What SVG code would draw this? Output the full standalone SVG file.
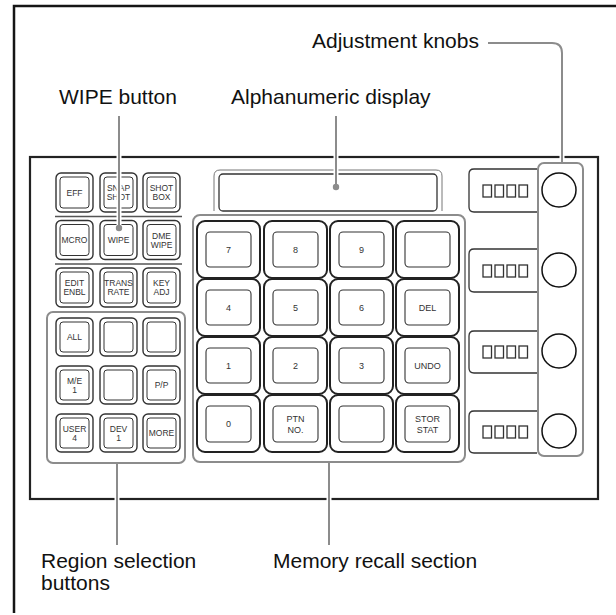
<svg xmlns="http://www.w3.org/2000/svg" width="616" height="615" viewBox="0 0 616 615">
<style>
.frame{fill:none;stroke:#151515;stroke-width:2.5}
.panel{fill:#fff;stroke:#222;stroke-width:2.2}
.bo{fill:#fff;stroke:#333;stroke-width:1.4}
.bi{fill:none;stroke:#333;stroke-width:1}
.bt{font-family:"Liberation Sans",Arial,sans-serif;font-size:8.5px;fill:#333;text-anchor:middle}
.ko{fill:#fff;stroke:#222;stroke-width:2}
.ki{fill:none;stroke:#333;stroke-width:1.1}
.kt{font-family:"Liberation Sans",Arial,sans-serif;font-size:9px;fill:#333;text-anchor:middle}
.grp{fill:none;stroke:#8c8c8c;stroke-width:2}
.sep{stroke:#555;stroke-width:1.3}
.disp{fill:none;stroke:#333;stroke-width:1.3}
.seg{fill:none;stroke:#333;stroke-width:1.3}
.knob{fill:#fff;stroke:#111;stroke-width:1.5}
.lbl{font-family:"Liberation Sans",Arial,sans-serif;font-size:21px;fill:#111}
.halo{fill:none;stroke:#fff;stroke-width:5}
.ln{fill:none;stroke:#8c8c8c;stroke-width:2}
.dot{fill:#8c8c8c}
</style>

<path class="frame" d="M14,613 V6 H616"/>
<g id="panel"><rect class="panel" x="30" y="157" width="568" height="342"/></g>

<g id="separators">
<line class="sep" x1="55" y1="216.5" x2="182" y2="216.5"/>
<line class="sep" x1="55" y1="264" x2="182" y2="264"/>
</g>

<g id="btn-eff"><rect class="bo" x="56" y="173" width="37" height="39" rx="5"/><rect class="bi" x="60" y="177" width="29" height="31" rx="3"/><text class="bt" x="74.5" y="195.5">EFF</text></g>
<g id="btn-snapshot"><rect class="bo" x="100" y="173" width="37" height="39" rx="5"/><rect class="bi" x="104" y="177" width="29" height="31" rx="3"/><text class="bt" x="118.5" y="191">SNAP</text><text class="bt" x="118.5" y="200">SHOT</text></g>
<g id="btn-shotbox"><rect class="bo" x="143" y="173" width="37" height="39" rx="5"/><rect class="bi" x="147" y="177" width="29" height="31" rx="3"/><text class="bt" x="161.5" y="191">SHOT</text><text class="bt" x="161.5" y="200">BOX</text></g>

<g id="btn-mcro"><rect class="bo" x="56" y="220.5" width="37" height="39" rx="5"/><rect class="bi" x="60" y="224.5" width="29" height="31" rx="3"/><text class="bt" x="74.5" y="243">MCRO</text></g>
<g id="btn-wipe"><rect class="bo" x="100" y="220.5" width="37" height="39" rx="5"/><rect class="bi" x="104" y="224.5" width="29" height="31" rx="3"/><text class="bt" x="118.5" y="243">WIPE</text></g>
<g id="btn-dmewipe"><rect class="bo" x="143" y="220.5" width="37" height="39" rx="5"/><rect class="bi" x="147" y="224.5" width="29" height="31" rx="3"/><text class="bt" x="161.5" y="238.5">DME</text><text class="bt" x="161.5" y="247.5">WIPE</text></g>

<g id="btn-editenbl"><rect class="bo" x="56" y="268" width="37" height="39" rx="5"/><rect class="bi" x="60" y="272" width="29" height="31" rx="3"/><text class="bt" x="74.5" y="286">EDIT</text><text class="bt" x="74.5" y="295">ENBL</text></g>
<g id="btn-transrate"><rect class="bo" x="100" y="268" width="37" height="39" rx="5"/><rect class="bi" x="104" y="272" width="29" height="31" rx="3"/><text class="bt" x="118.5" y="286">TRANS</text><text class="bt" x="118.5" y="295">RATE</text></g>
<g id="btn-keyadj"><rect class="bo" x="143" y="268" width="37" height="39" rx="5"/><rect class="bi" x="147" y="272" width="29" height="31" rx="3"/><text class="bt" x="161.5" y="286">KEY</text><text class="bt" x="161.5" y="295">ADJ</text></g>

<g id="region-group"><rect class="grp" x="47" y="312" width="138" height="151" rx="6"/></g>
<g id="btn-all"><rect class="bo" x="56" y="318" width="37" height="38" rx="5"/><rect class="bi" x="60" y="322" width="29" height="30" rx="3"/><text class="bt" x="74.5" y="340">ALL</text></g>
<g id="btn-r1c2"><rect class="bo" x="100" y="318" width="37" height="38" rx="5"/><rect class="bi" x="104" y="322" width="29" height="30" rx="3"/></g>
<g id="btn-r1c3"><rect class="bo" x="143" y="318" width="37" height="38" rx="5"/><rect class="bi" x="147" y="322" width="29" height="30" rx="3"/></g>
<g id="btn-me1"><rect class="bo" x="56" y="366" width="37" height="38" rx="5"/><rect class="bi" x="60" y="370" width="29" height="30" rx="3"/><text class="bt" x="74.5" y="383.5">M/E</text><text class="bt" x="74.5" y="392.5">1</text></g>
<g id="btn-r2c2"><rect class="bo" x="100" y="366" width="37" height="38" rx="5"/><rect class="bi" x="104" y="370" width="29" height="30" rx="3"/></g>
<g id="btn-pp"><rect class="bo" x="143" y="366" width="37" height="38" rx="5"/><rect class="bi" x="147" y="370" width="29" height="30" rx="3"/><text class="bt" x="161.5" y="388">P/P</text></g>
<g id="btn-user4"><rect class="bo" x="56" y="414" width="37" height="38" rx="5"/><rect class="bi" x="60" y="418" width="29" height="30" rx="3"/><text class="bt" x="74.5" y="431.5">USER</text><text class="bt" x="74.5" y="440.5">4</text></g>
<g id="btn-dev1"><rect class="bo" x="100" y="414" width="37" height="38" rx="5"/><rect class="bi" x="104" y="418" width="29" height="30" rx="3"/><text class="bt" x="118.5" y="431.5">DEV</text><text class="bt" x="118.5" y="440.5">1</text></g>
<g id="btn-more"><rect class="bo" x="143" y="414" width="37" height="38" rx="5"/><rect class="bi" x="147" y="418" width="29" height="30" rx="3"/><text class="bt" x="161.5" y="436">MORE</text></g>

<g id="alpha-display">
<path fill="none" stroke="#777" stroke-width="1" d="M214,211 V176 Q214,170 220,170 H436 Q442,170 442,176 V211"/>
<rect class="disp" x="219" y="174" width="218" height="37" rx="4"/>
</g>

<g id="memory-group"><rect class="grp" x="193" y="215" width="272" height="247" rx="7"/></g>
<g id="key-7"><rect class="ko" x="197" y="221" width="63" height="57" rx="8"/><rect class="ki" x="206" y="232" width="45" height="35" rx="4"/><text class="kt" x="228.5" y="252.5">7</text></g>
<g id="key-8"><rect class="ko" x="264" y="221" width="63" height="57" rx="8"/><rect class="ki" x="273" y="232" width="45" height="35" rx="4"/><text class="kt" x="295.5" y="252.5">8</text></g>
<g id="key-9"><rect class="ko" x="330" y="221" width="63" height="57" rx="8"/><rect class="ki" x="339" y="232" width="45" height="35" rx="4"/><text class="kt" x="361.5" y="252.5">9</text></g>
<g id="key-r1c4"><rect class="ko" x="396" y="221" width="63" height="57" rx="8"/><rect class="ki" x="405" y="232" width="45" height="35" rx="4"/></g>
<g id="key-4"><rect class="ko" x="197" y="279" width="63" height="57" rx="8"/><rect class="ki" x="206" y="290" width="45" height="35" rx="4"/><text class="kt" x="228.5" y="310.5">4</text></g>
<g id="key-5"><rect class="ko" x="264" y="279" width="63" height="57" rx="8"/><rect class="ki" x="273" y="290" width="45" height="35" rx="4"/><text class="kt" x="295.5" y="310.5">5</text></g>
<g id="key-6"><rect class="ko" x="330" y="279" width="63" height="57" rx="8"/><rect class="ki" x="339" y="290" width="45" height="35" rx="4"/><text class="kt" x="361.5" y="310.5">6</text></g>
<g id="key-del"><rect class="ko" x="396" y="279" width="63" height="57" rx="8"/><rect class="ki" x="405" y="290" width="45" height="35" rx="4"/><text class="kt" x="427.5" y="310.5">DEL</text></g>
<g id="key-1"><rect class="ko" x="197" y="337" width="63" height="57" rx="8"/><rect class="ki" x="206" y="348" width="45" height="35" rx="4"/><text class="kt" x="228.5" y="368.5">1</text></g>
<g id="key-2"><rect class="ko" x="264" y="337" width="63" height="57" rx="8"/><rect class="ki" x="273" y="348" width="45" height="35" rx="4"/><text class="kt" x="295.5" y="368.5">2</text></g>
<g id="key-3"><rect class="ko" x="330" y="337" width="63" height="57" rx="8"/><rect class="ki" x="339" y="348" width="45" height="35" rx="4"/><text class="kt" x="361.5" y="368.5">3</text></g>
<g id="key-undo"><rect class="ko" x="396" y="337" width="63" height="57" rx="8"/><rect class="ki" x="405" y="348" width="45" height="35" rx="4"/><text class="kt" x="427.5" y="368.5">UNDO</text></g>
<g id="key-0"><rect class="ko" x="197" y="395" width="63" height="57" rx="8"/><rect class="ki" x="206" y="406" width="45" height="36" rx="4"/><text class="kt" x="228.5" y="427">0</text></g>
<g id="key-ptnno"><rect class="ko" x="264" y="395" width="63" height="57" rx="8"/><rect class="ki" x="273" y="406" width="45" height="36" rx="4"/><text class="kt" x="295.5" y="422">PTN</text><text class="kt" x="295.5" y="432.5">NO.</text></g>
<g id="key-r4c3"><rect class="ko" x="330" y="395" width="63" height="57" rx="8"/><rect class="ki" x="339" y="406" width="45" height="36" rx="4"/></g>
<g id="key-storstat"><rect class="ko" x="396" y="395" width="63" height="57" rx="8"/><rect class="ki" x="405" y="406" width="45" height="36" rx="4"/><text class="kt" x="427.5" y="422">STOR</text><text class="kt" x="427.5" y="432.5">STAT</text></g>

<g id="display-1"><path class="disp" d="M537,169 H474 Q469,169 469,174 V207 Q469,212 474,212 H537"/><rect class="seg" x="483" y="185" width="8.5" height="12"/><rect class="seg" x="495" y="185" width="8.5" height="12"/><rect class="seg" x="507" y="185" width="8.5" height="12"/><rect class="seg" x="519" y="185" width="8.5" height="12"/></g>
<g id="display-2"><path class="disp" d="M537,249 H474 Q469,249 469,254 V287 Q469,292 474,292 H537"/><rect class="seg" x="483" y="265" width="8.5" height="12"/><rect class="seg" x="495" y="265" width="8.5" height="12"/><rect class="seg" x="507" y="265" width="8.5" height="12"/><rect class="seg" x="519" y="265" width="8.5" height="12"/></g>
<g id="display-3"><path class="disp" d="M537,331 H474 Q469,331 469,336 V368 Q469,373 474,373 H537"/><rect class="seg" x="483" y="346" width="8.5" height="12"/><rect class="seg" x="495" y="346" width="8.5" height="12"/><rect class="seg" x="507" y="346" width="8.5" height="12"/><rect class="seg" x="519" y="346" width="8.5" height="12"/></g>
<g id="display-4"><path class="disp" d="M537,411 H474 Q469,411 469,416 V448 Q469,453 474,453 H537"/><rect class="seg" x="483" y="426" width="8.5" height="12"/><rect class="seg" x="495" y="426" width="8.5" height="12"/><rect class="seg" x="507" y="426" width="8.5" height="12"/><rect class="seg" x="519" y="426" width="8.5" height="12"/></g>

<g id="knob-group">
<rect fill="#fff" stroke="#8c8c8c" stroke-width="2" x="538" y="163" width="45" height="293" rx="6"/>
<circle class="knob" cx="559" cy="190" r="17"/>
<circle class="knob" cx="559" cy="270" r="17"/>
<circle class="knob" cx="559" cy="351" r="17"/>
<circle class="knob" cx="559" cy="431" r="17"/>
</g>

<g id="connectors">
<path class="halo" d="M119,116 V226"/><path class="ln" d="M119,116 V228"/><circle class="dot" cx="119" cy="228" r="3.2"/>
<path class="halo" d="M336,116 V185"/><path class="ln" d="M336,116 V187"/><circle class="dot" cx="336" cy="187" r="3.2"/>
<path class="halo" d="M488,43 H552 Q562,43 562,53 V162"/><path class="ln" d="M488,43 H552 Q562,43 562,53 V163"/>
<path class="halo" d="M117,465 V545"/><path class="ln" d="M117,463 V545"/>
<path class="halo" d="M329,464 V545"/><path class="ln" d="M329,462 V545"/>
</g>

<g id="labels">
<text class="lbl" x="312" y="48">Adjustment knobs</text>
<text class="lbl" x="59" y="104">WIPE button</text>
<text class="lbl" x="231" y="104">Alphanumeric display</text>
<text class="lbl" x="41" y="568">Region selection</text>
<text class="lbl" x="41" y="590">buttons</text>
<text class="lbl" x="273" y="568">Memory recall section</text>
</g>
</svg>
